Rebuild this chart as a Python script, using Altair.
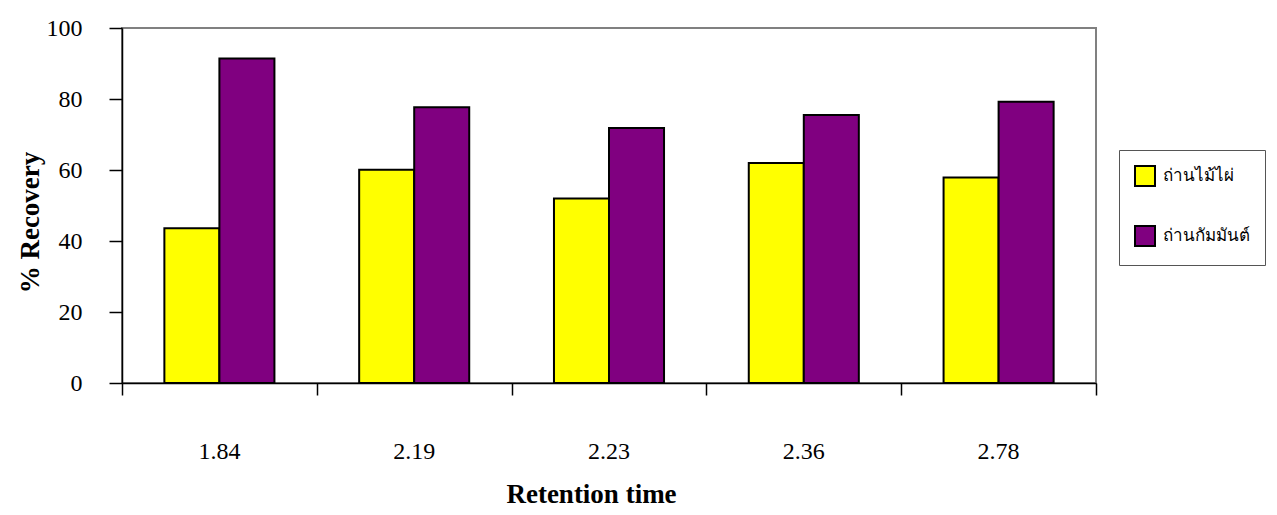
import altair as alt
import pandas as pd

categories = ["1.84", "2.19", "2.23", "2.36", "2.78"]
series = ["ถ่านไม้ไผ่", "ถ่านกัมมันต์"]
bamboo = [43.6, 60.1, 52.0, 62.0, 57.9]
activated = [91.4, 77.7, 71.8, 75.5, 79.2]
colors = ["#FFFF00", "#800080"]
y_ticks = [0, 20, 40, 60, 80, 100]
boundaries = [0, 1, 2, 3, 4, 5]

rows = []
for c, a, b in zip(categories, bamboo, activated):
    rows.append({"rt": c, "series": series[0], "value": a})
    rows.append({"rt": c, "series": series[1], "value": b})
df = pd.DataFrame(rows)

FONT = "Liberation Serif"

bars = alt.Chart(df).mark_bar(stroke="black", strokeWidth=2).encode(
    x=alt.X(
        "rt:N",
        sort=categories,
        scale=alt.Scale(paddingInner=0, paddingOuter=0),
        axis=alt.Axis(
            title="Retention time",
            ticks=False,
            tickSize=0,
            labelAngle=0,
            labelFont=FONT,
            labelFontSize=24,
            labelColor="black",
            labelPadding=68,
            labelBaseline="middle",
            domainColor="black",
            domainWidth=1.5,
            grid=False,
            titleFont=FONT,
            titleFontSize=27,
            titleFontWeight="bold",
            titleColor="black",
            titleX=469,
            titleY=119,
            titleAlign="center",
            titleBaseline="alphabetic",
            zindex=1,
        ),
    ),
    xOffset=alt.XOffset(
        "series:N", sort=series, scale=alt.Scale(paddingOuter=0.77, paddingInner=0)
    ),
    y=alt.Y(
        "value:Q",
        scale=alt.Scale(domain=[0, 100], nice=False),
        axis=alt.Axis(
            values=y_ticks,
            tickSize=13,
            tickColor="black",
            tickWidth=1.5,
            labelPadding=27,
            labelFont=FONT,
            labelFontSize=24,
            labelColor="black",
            domainColor="black",
            domainWidth=1.5,
            grid=False,
            title="% Recovery",
            titleFont=FONT,
            titleFontSize=27,
            titleFontWeight="bold",
            titleColor="black",
            titleX=-92,
            titleY=194,
            titleAlign="center",
            titleBaseline="middle",
            zindex=1,
        ),
    ),
    color=alt.Color(
        "series:N",
        sort=series,
        scale=alt.Scale(domain=series, range=colors),
        legend=alt.Legend(
            title=None,
            orient="none",
            legendX=997,
            legendY=122,
            symbolType="square",
            symbolSize=400,
            symbolStrokeColor="black",
            symbolStrokeWidth=2,
            symbolOpacity=1,
            labelFont=FONT,
            labelFontSize=17,
            labelColor="black",
            labelOffset=7,
            rowPadding=32,
            padding=15,
            strokeColor="#555555",
            fillColor="white",
        ),
    ),
)

tick_layer = alt.Chart(pd.DataFrame({"b": boundaries})).mark_point(opacity=0).encode(
    x=alt.X(
        "b:Q",
        scale=alt.Scale(domain=[0, 5], nice=False, zero=False),
        axis=alt.Axis(
            orient="bottom",
            values=boundaries,
            labels=False,
            domain=False,
            ticks=True,
            tickSize=12,
            tickColor="black",
            tickWidth=1.5,
            grid=False,
            title=None,
            zindex=1,
        ),
    ),
    y=alt.value(0),
)

chart = (
    alt.layer(bars, tick_layer)
    .resolve_scale(x="independent")
    .properties(
        width=974,
        height=355,
        autosize="none",
        padding={"left": 114, "top": 20, "right": 173, "bottom": 124},
        background="white",
    )
    .configure_view(stroke="#808080", strokeWidth=2)
)

chart.save("out.html", embed_options={"renderer": "svg", "actions": False})
